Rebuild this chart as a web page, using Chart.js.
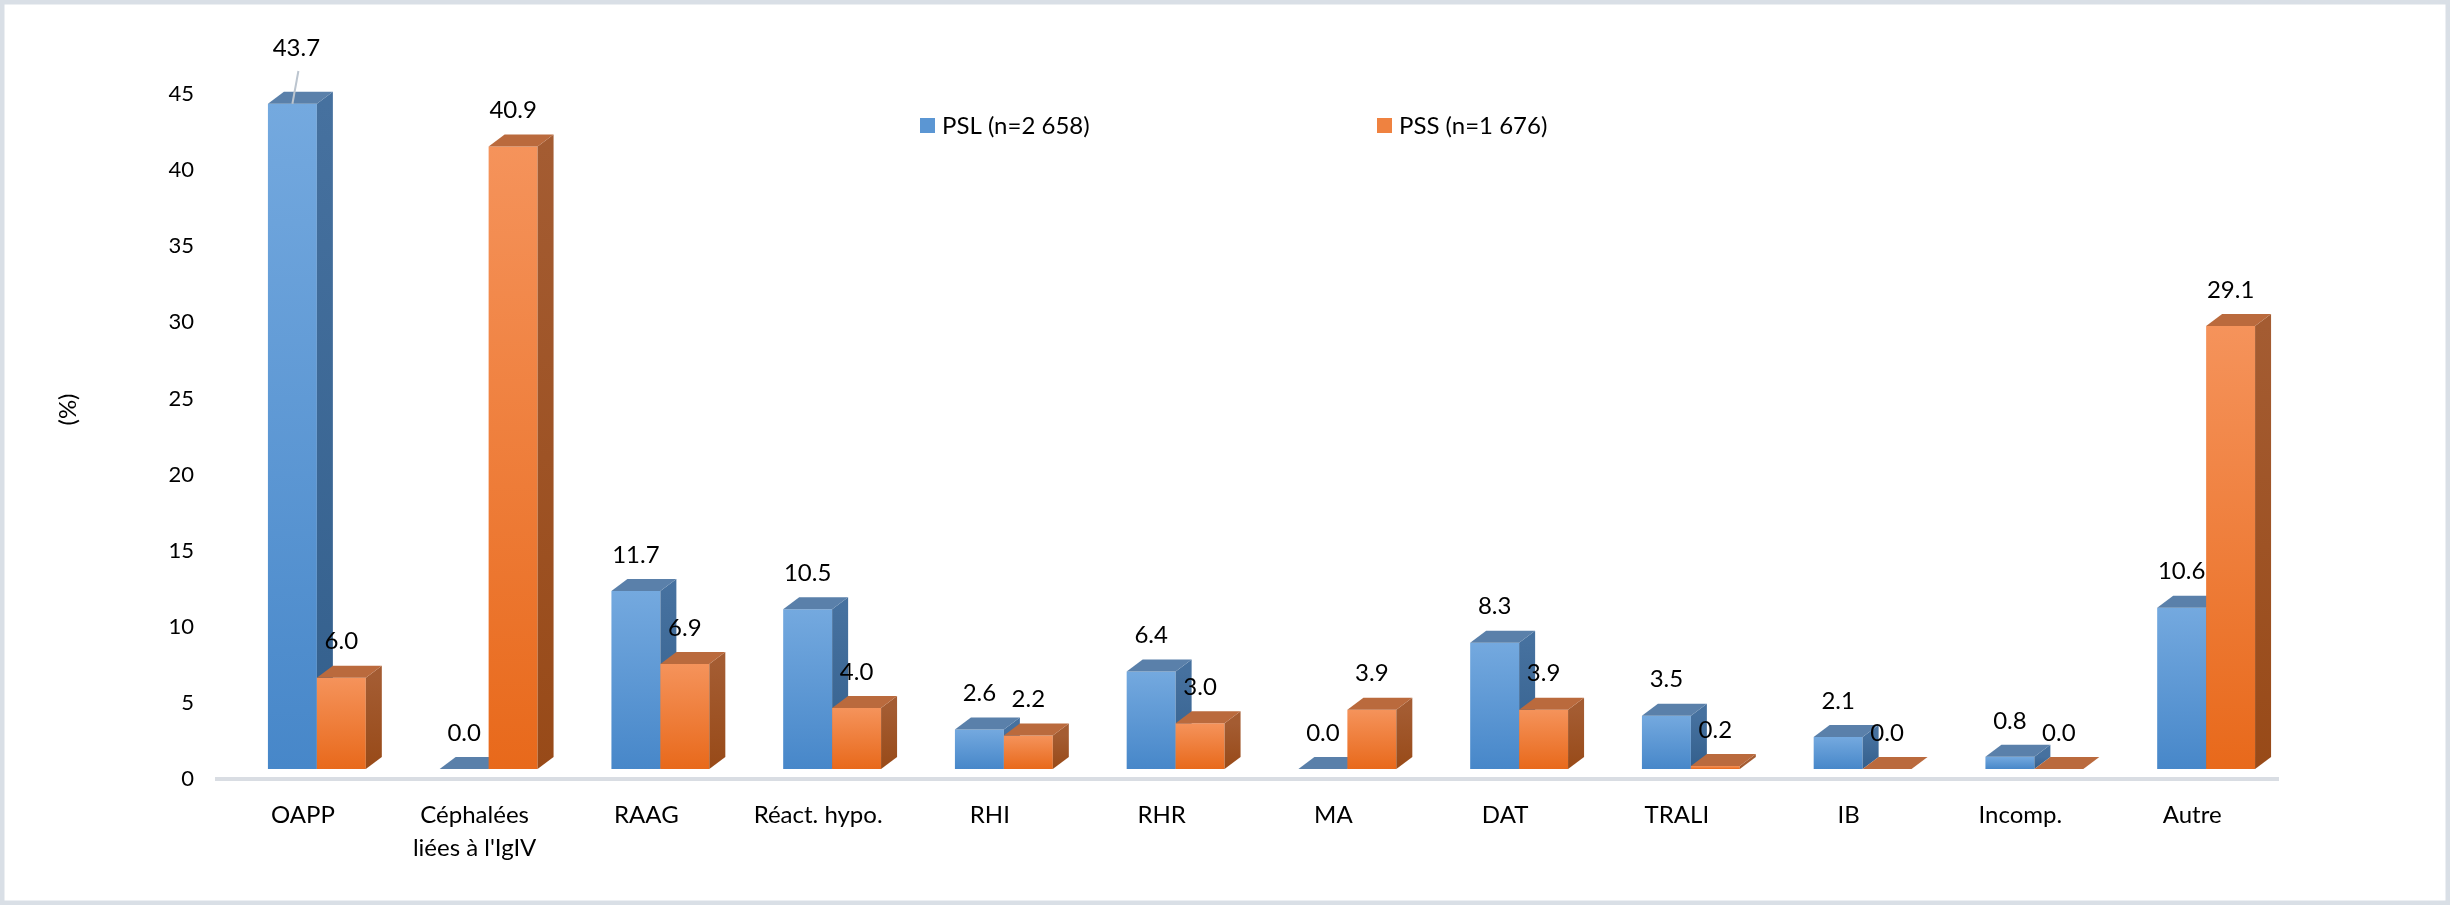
<!DOCTYPE html>
<html lang="fr">
<head>
<meta charset="utf-8">
<title>PSL / PSS</title>
<script src="https://cdn.jsdelivr.net/npm/chart.js@4.4.1/dist/chart.umd.min.js"></script>
<style>
    html, body { margin: 0; padding: 0; background: #fff; }
    canvas { display: block; }
</style>
</head>
<body>
<canvas id="barChart" width="2450" height="905"></canvas>
<script>
// ---- data ----
const categories = ['OAPP', ['Céphalées', "liées à l'IgIV"], 'RAAG', 'Réact. hypo.', 'RHI', 'RHR',
                    'MA', 'DAT', 'TRALI', 'IB', 'Incomp.', 'Autre'];
const pslValues = [43.7, 0.0, 11.7, 10.5, 2.6, 6.4, 0.0, 8.3, 3.5, 2.1, 0.8, 10.6];
const pssValues = [6.0, 40.9, 6.9, 4.0, 2.2, 3.0, 3.9, 3.9, 0.2, 0.0, 0.0, 29.1];
const seriesLabels = ['PSL (n=2 658)', 'PSS (n=1 676)'];
const yTicks = [0, 5, 10, 15, 20, 25, 30, 35, 40, 45];
const yTitle = '(%)';

// ---- look ----
const FONT = 'Lato, "Noto Sans", sans-serif';
const palettes = [
    { front: ['#74a9df', '#4787c9'], side: ['#46719f', '#335f8c'], top: '#5a80aa', key: '#5b96d3' },
    { front: ['#f5935b', '#e8691b'], side: ['#a45c32', '#984a18'], top: '#ba6a3d', key: '#ef8240' }
];
const DEPTH_X = 16, DEPTH_Y = 12;   // 3D depth of the columns
const SHIFT_X = 14, SHIFT_Y = -10;  // columns sit slightly behind the axis floor

function frontFill(context) {
    const chart = context.chart;
    const pal = palettes[context.datasetIndex];
    if (!chart.chartArea || context.raw === undefined) return pal.front[1];
    const y = chart.scales.y;
    const top = y.getPixelForValue(context.raw);
    const bottom = y.getPixelForValue(0);
    if (bottom - top < 1) return pal.front[1];
    const g = chart.ctx.createLinearGradient(0, top, 0, bottom);
    g.addColorStop(0, pal.front[0]);
    g.addColorStop(1, pal.front[1]);
    return g;
}

// draws the columns with a side and a top face (replaces the flat bars)
const columns3d = {
    id: 'columns3d',
    beforeDraw(chart) {
        const ctx = chart.ctx;
        ctx.save();
        ctx.fillStyle = '#ffffff';
        ctx.fillRect(0, 0, chart.width, chart.height);
        ctx.strokeStyle = '#d9dfe6';
        ctx.lineWidth = 9;
        ctx.strokeRect(0, 0, chart.width, chart.height);
        ctx.restore();
    },
    beforeDatasetsDraw(chart) {
        const ctx = chart.ctx;
        ctx.save();
        ctx.translate(SHIFT_X, SHIFT_Y);
        chart.data.datasets.forEach((ds, i) => {
            const pal = palettes[i];
            chart.getDatasetMeta(i).data.forEach(bar => {
                const left = bar.x - bar.width / 2;
                const right = bar.x + bar.width / 2;
                const top = Math.min(bar.y, bar.base);
                const bottom = bar.base;

                bar.draw(ctx);

                if (bottom - top > 0.5) {
                    const gs = ctx.createLinearGradient(0, top, 0, bottom);
                    gs.addColorStop(0, pal.side[0]);
                    gs.addColorStop(1, pal.side[1]);
                    ctx.fillStyle = gs;
                    ctx.beginPath();
                    ctx.moveTo(right, bottom);
                    ctx.lineTo(right, top);
                    ctx.lineTo(right + DEPTH_X, top - DEPTH_Y);
                    ctx.lineTo(right + DEPTH_X, bottom - DEPTH_Y);
                    ctx.closePath();
                    ctx.fill();
                }

                ctx.fillStyle = pal.top;
                ctx.beginPath();
                ctx.moveTo(left, top);
                ctx.lineTo(left + DEPTH_X, top - DEPTH_Y);
                ctx.lineTo(right + DEPTH_X, top - DEPTH_Y);
                ctx.lineTo(right, top);
                ctx.closePath();
                ctx.fill();
            });
        });
        ctx.restore();
        return false;
    },
    afterDraw(chart) {
        const ctx = chart.ctx;
        const area = chart.chartArea;
        ctx.save();

        // value labels
        ctx.font = '24px ' + FONT;
        ctx.fillStyle = '#000';
        ctx.textAlign = 'center';
        ctx.textBaseline = 'middle';
        chart.data.datasets.forEach((ds, i) => {
            chart.getDatasetMeta(i).data.forEach((bar, j) => {
                const cx = bar.x + SHIFT_X;
                const frontTop = Math.min(bar.y, bar.base) + SHIFT_Y;
                let ly = frontTop - 36;
                let lx = cx;
                if (ly < area.top - 20) {
                    // label pushed up, with a leader line back to the column
                    ly = area.top - 46;
                    lx = cx + 4;
                    ctx.strokeStyle = '#bcc5cf';
                    ctx.lineWidth = 2;
                    ctx.beginPath();
                    ctx.moveTo(lx + 2, ly + 23);
                    ctx.lineTo(cx, frontTop);
                    ctx.stroke();
                }
                ctx.fillText(ds.data[j].toFixed(1), lx, ly);
            });
        });

        // legend
        const legendX = [area.left + 703, area.left + 1160];
        const legendY = area.top + 32;
        ctx.textAlign = 'left';
        chart.data.datasets.forEach((ds, i) => {
            ctx.fillStyle = palettes[i].key;
            ctx.fillRect(legendX[i], legendY - 8, 15, 15);
            ctx.fillStyle = '#000';
            ctx.fillText(ds.label, legendX[i] + 22, legendY);
        });

        // y axis title
        ctx.translate(68, (area.top + area.bottom) / 2 - 27);
        ctx.rotate(-Math.PI / 2);
        ctx.textAlign = 'center';
        ctx.fillText(yTitle, 0, 0);
        ctx.restore();
    }
};

new Chart('barChart', {
    type: 'bar',
    data: {
        labels: categories,
        datasets: [{
            label: seriesLabels[0],
            data: pslValues,
            backgroundColor: frontFill,
            borderWidth: 0
        }, {
            label: seriesLabels[1],
            data: pssValues,
            backgroundColor: frontFill,
            borderWidth: 0
        }]
    },
    options: {
        responsive: false,
        devicePixelRatio: 1,
        animation: false,
        layout: {
            padding: { top: 94, right: 172, bottom: 0, left: 0 }
        },
        categoryPercentage: 0.57,
        barPercentage: 1.0,
        plugins: {
            legend: { display: false },
            tooltip: { enabled: false }
        },
        scales: {
            x: {
                grid: { display: false, drawTicks: false },
                border: { display: true, color: '#d9dde3', width: 4 },
                ticks: {
                    color: '#000',
                    padding: 19.5,
                    maxRotation: 0,
                    autoSkip: false,
                    font: { family: FONT, size: 24, lineHeight: 1.375 }
                },
                afterFit(scale) { scale.height = 126; }
            },
            y: {
                min: 0,
                max: 45,
                grid: { display: false, drawTicks: false },
                border: { display: false },
                ticks: {
                    color: '#000',
                    padding: 23,
                    font: { family: FONT, size: 22 }
                },
                afterBuildTicks(scale) {
                    scale.ticks = yTicks.map(v => ({ value: v }));
                },
                afterFit(scale) { scale.width = 217; }
            }
        }
    },
    plugins: [columns3d]
});
</script>
</body>
</html>
